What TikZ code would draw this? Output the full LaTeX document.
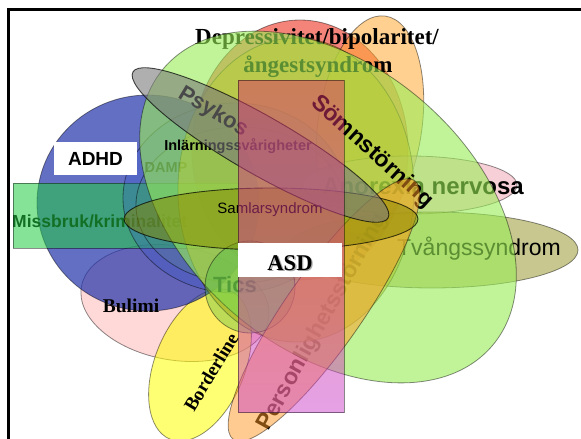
\documentclass[tikz,border=0pt]{standalone}
\usepackage{fontspec}
\setmainfont{Liberation Serif}
\setsansfont{Liberation Sans}
\definecolor{cRed}{HTML}{EE3322}
\definecolor{cOrange}{HTML}{FFAA33}
\definecolor{cPink}{HTML}{F0A0B0}
\definecolor{cOlive}{HTML}{999933}
\definecolor{cGreen}{HTML}{99EE55}
\definecolor{cYellow}{HTML}{DDA000}
\definecolor{cBlue}{HTML}{2233AA}
\definecolor{cMiss}{HTML}{22CC44}
\definecolor{cBlueB}{HTML}{3355CC}
\definecolor{cGreenB}{HTML}{55AA55}
\definecolor{cTics}{HTML}{44BB44}
\definecolor{cPinkB}{HTML}{FFAAAA}
\definecolor{cYelB}{HTML}{FFFF00}
\definecolor{cOrangeB}{HTML}{FF9922}
\definecolor{cOliveB}{HTML}{888800}
\definecolor{cRectT}{HTML}{DD3366}
\definecolor{cRectB}{HTML}{CC44CC}
\definecolor{cGrey}{HTML}{7A7A7A}
\begin{document}
\begin{tikzpicture}[x=1pt,y=-1pt,
  outl/.style={draw=black, draw opacity=0.45, line width=0.8pt},
  sfb/.style={font=\sffamily\bfseries\fontsize{#1}{#1}\selectfont, inner sep=0pt},
  sfr/.style={font=\sffamily\fontsize{#1}{#1}\selectfont, inner sep=0pt},
  serb/.style={font=\rmfamily\bfseries\fontsize{#1}{#1}\selectfont, inner sep=0pt}]
\useasboundingbox (0,0) rectangle (581,439);
\fill[white] (0,0) rectangle (581,439);
% Depressivitet (red) and orange
\path[outl, fill=cRed, fill opacity=0.6] (300,150) ellipse [x radius=108pt, y radius=130pt];
\path[outl, fill=cOrange, fill opacity=0.55, rotate around={-8:(370,125)}] (370,125) ellipse [x radius=52pt, y radius=110pt];
% Anorexia, Tvang
\path[outl, fill=cPink, fill opacity=0.5] (410,185) ellipse [x radius=107pt, y radius=29pt];
\path[outl, fill=cOlive, fill opacity=0.55] (432,250) ellipse [x radius=146pt, y radius=38pt];
\node[sfb=24, anchor=east] (anor) at (524,186) {Anorexia nervosa};
\node[sfr=23] (tvang) at (479,249) {Tvångssyndrom};
\node[sfb=23, rotate=61] (pers) at (323,322) {Personlighetsstörning};
% Bulimi, Borderline
\path[outl, fill=cPinkB, fill opacity=0.45, rotate around={-10:(175,303)}] (175,303) ellipse [x radius=95pt, y radius=57pt];
\path[outl, fill=cYelB, fill opacity=0.55, rotate around={68:(200,365)}] (200,365) ellipse [x radius=80pt, y radius=45pt];
% ADHD, Missbruk
\path[outl, fill=cBlue, fill opacity=0.7] (148,203) ellipse [x radius=111pt, y radius=108pt];
\node[sfb=17.5, anchor=west] (miss) at (12,221) {Missbruk/kriminalitet};
\path[outl, fill=cMiss, fill opacity=0.55] (13,183) rectangle (238,248);
\node[sfb=14.5] (damp) at (166,168) {DAMP};
% Inlarning, DAMP ellipses
\path[outl, fill=cBlueB, fill opacity=0.3] (235,198) ellipse [x radius=112pt, y radius=95pt];
\path[outl, fill=cGreenB, fill opacity=0.15] (240,205) ellipse [x radius=104pt, y radius=78pt];
% yellow, title, big green
\path[outl, fill=cYellow, fill opacity=0.5] (296,190) ellipse [x radius=118pt, y radius=152pt];
\node[serb=23] (t1) at (317,39) {Depressivitet/bipolaritet/};
\node[serb=23] (t2) at (318,67) {ångestsyndrom};
\node[sfb=22] (tics) at (235,285) {Tics};
\path[outl, fill=cGreen, fill opacity=0.6, rotate around={-40:(328,207)}] (328,207) ellipse [x radius=215pt, y radius=142pt];
\node[sfb=23, rotate=-42] (somn) at (372,152) {Sömnstörning};
% Tics
\path[outl, fill=cTics, fill opacity=0.35] (250,287) ellipse [x radius=45pt, y radius=46pt];
% Personlighet
\path[outl, fill=cOrangeB, fill opacity=0.5, rotate around={55:(324,310)}] (324,310) ellipse [x radius=158pt, y radius=38pt];
% Samlarsyndrom
\path[draw=black, draw opacity=0.7, line width=0.9pt, fill=cOliveB, fill opacity=0.5] (271,219) ellipse [x radius=147pt, y radius=31pt];
\node[sfr=15] (saml) at (270,210) {Samlarsyndrom};
\node[sfb=14.5] (inl) at (238,146) {Inlärningssvårigheter};
\node[sfb=22, rotate=-31] (psyk) at (213,112) {Psykos};
% Psykos ellipse
\path[draw=black, draw opacity=0.7, line width=0.9pt, fill=cGrey, fill opacity=0.6, rotate around={-29.8:(260.5,145)}] (260.5,145) ellipse [x radius=147pt, y radius=29pt];
% ASD rect
\path[outl, top color=cRectT, bottom color=cRectB, fill opacity=0.5] (238,80) rectangle (344,412);
% white boxes and top labels
\node[fill=white, minimum width=83pt, minimum height=33pt, inner sep=0pt] (adhdbox) at (95.5,158.5) {};
\node[sfb=19] (adhd) at (adhdbox.center) {ADHD};
\node[fill=white, minimum width=104pt, minimum height=34pt, inner sep=0pt] (asdbox) at (290,260) {};
\node[serb=22.5, text=black!35] (asdsh) at (291.3,264.3) {ASD};
\node[serb=22.5] (asd) at (290,263) {ASD};
\node[serb=19.5] (bul) at (131,306) {Bulimi};
\node[serb=19, rotate=59] (bord) at (211,372) {Borderline};
% frame
\draw[line width=3pt, line join=miter] (8,439) -- (8,9) -- (581,9);
\end{tikzpicture}
\end{document}
